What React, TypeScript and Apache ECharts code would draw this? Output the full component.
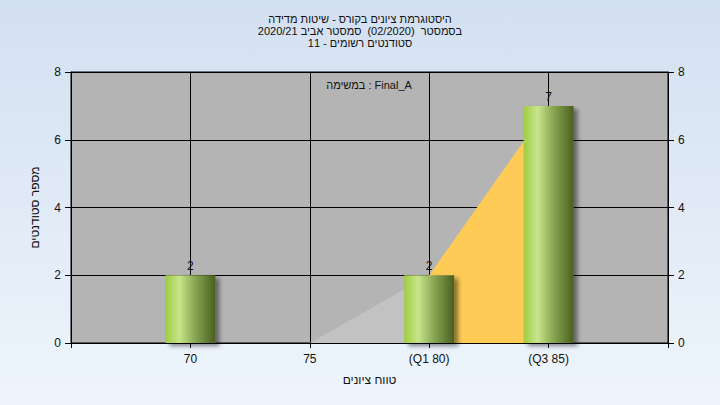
import React, { useEffect, useRef } from "react";
import * as echarts from "echarts";

const grades = [70, 75, 80, 85];
const counts = [2, 0, 2, 7];
const tickLabels = ["70", "75", "(Q1 80)", "(Q3 85)"];
const lowRange = [75, 80];
const iqrRange = [80, 85];
const yTicks = [0, 2, 4, 6, 8];

const titleLines = [
  "היסטוגרמת ציונים בקורס - שיטות מדידה",
  "בסמסטר  (02/2020)  סמסטר אביב 2020/21",
  "סטודנטים רשומים - 11",
];
const legendText = "במשימה : Final_A";
const xName = "טווח ציונים";
const yName = "מספר סטודנטים";

const FONT = "'Liberation Sans', 'DejaVu Sans', sans-serif";

function countAt(g: number): number {
  const i = grades.indexOf(g);
  return i >= 0 ? counts[i] : 0;
}

export default function App() {
  const ref = useRef<HTMLDivElement>(null);
  useEffect(() => {
    if (!ref.current) return;
    const chart = echarts.init(ref.current, null, { renderer: "svg" });
    const labelFor = (v: number) => {
      const i = grades.indexOf(v);
      return i >= 0 ? tickLabels[i] : "";
    };
    const yAxisBase = {
      type: "value",
      min: yTicks[0],
      max: yTicks[yTicks.length - 1],
      interval: 2,
      axisLine: { show: true, lineStyle: { color: "#000", width: 1 } },
      axisTick: { show: true, length: 6, lineStyle: { color: "#000" } },
      axisLabel: { color: "#111", fontSize: 12, fontFamily: FONT, margin: 10 },
    };
    chart.setOption({
      animation: false,
      backgroundColor: {
        type: "linear",
        x: 0,
        y: 0,
        x2: 0,
        y2: 1,
        colorStops: [
          { offset: 0, color: "#d3e0f1" },
          { offset: 1, color: "#eef5fc" },
        ],
      },
      title: {
        text: titleLines.join("\n"),
        left: "center",
        top: 8,
        textStyle: {
          fontSize: 11,
          lineHeight: 12,
          fontWeight: "normal",
          color: "#111",
          fontFamily: FONT,
        },
      },
      graphic: [
        {
          type: "text",
          x: 369,
          y: 85,
          style: {
            text: legendText,
            fontSize: 11,
            fontFamily: FONT,
            fill: "#111",
            textAlign: "center",
            textVerticalAlign: "middle",
          },
        },
      ],
      grid: {
        left: 71,
        right: 52,
        top: 72,
        bottom: 62,
        show: true,
        backgroundColor: "#b4b4b4",
        borderColor: "#000",
        borderWidth: 1,
      },
      xAxis: {
        type: "value",
        min: 65,
        max: 90,
        interval: 5,
        name: xName,
        nameLocation: "middle",
        nameGap: 31,
        nameTextStyle: { fontSize: 12, color: "#111", fontFamily: FONT },
        axisLine: { show: true, lineStyle: { color: "#000" } },
        axisTick: { show: true, length: 5, lineStyle: { color: "#000" } },
        axisLabel: {
          color: "#111",
          fontSize: 12,
          fontFamily: FONT,
          margin: 10,
          formatter: (v: number) => labelFor(v),
        },
        splitLine: { show: true, lineStyle: { color: "#000", width: 1 } },
      },
      yAxis: [
        {
          ...yAxisBase,
          position: "left",
          name: yName,
          nameLocation: "middle",
          nameGap: 30,
          nameTextStyle: { fontSize: 12, color: "#111", fontFamily: FONT },
          splitLine: { show: true, lineStyle: { color: "#000", width: 1 } },
        },
        {
          ...yAxisBase,
          position: "right",
          splitLine: { show: false },
        },
      ],
      series: [
        {
          type: "line",
          data: lowRange.map((g) => [g, countAt(g)]),
          symbol: "none",
          lineStyle: { width: 0 },
          areaStyle: { color: "#c2c2c2", opacity: 1 },
          silent: true,
          z: 2,
        },
        {
          type: "line",
          data: iqrRange.map((g) => [g, countAt(g)]),
          symbol: "none",
          lineStyle: { width: 0 },
          areaStyle: { color: "#ffcb57", opacity: 1 },
          silent: true,
          z: 2,
        },
        {
          type: "bar",
          data: grades.map((g, i) => [g, counts[i]]),
          barWidth: 50,
          z: 3,
          itemStyle: {
            color: {
              type: "linear",
              x: 0,
              y: 0,
              x2: 1,
              y2: 0,
              colorStops: [
                { offset: 0, color: "#9fcd40" },
                { offset: 0.28, color: "#c8e48c" },
                { offset: 0.6, color: "#87a551" },
                { offset: 1, color: "#4a5f1f" },
              ],
            },
            shadowColor: "rgba(0,0,0,0.45)",
            shadowBlur: 4,
            shadowOffsetX: 4,
            shadowOffsetY: 3,
          },
          label: {
            show: true,
            position: "top",
            distance: 3,
            fontSize: 12,
            color: "#111",
            fontFamily: FONT,
            formatter: (p: any) => (p.value[1] ? String(p.value[1]) : ""),
          },
        },
      ],
    });
    return () => chart.dispose();
  }, []);
  return (
    <div
      ref={ref}
      style={{ position: "fixed", left: 0, top: 0, width: 720, height: 405 }}
    />
  );
}
